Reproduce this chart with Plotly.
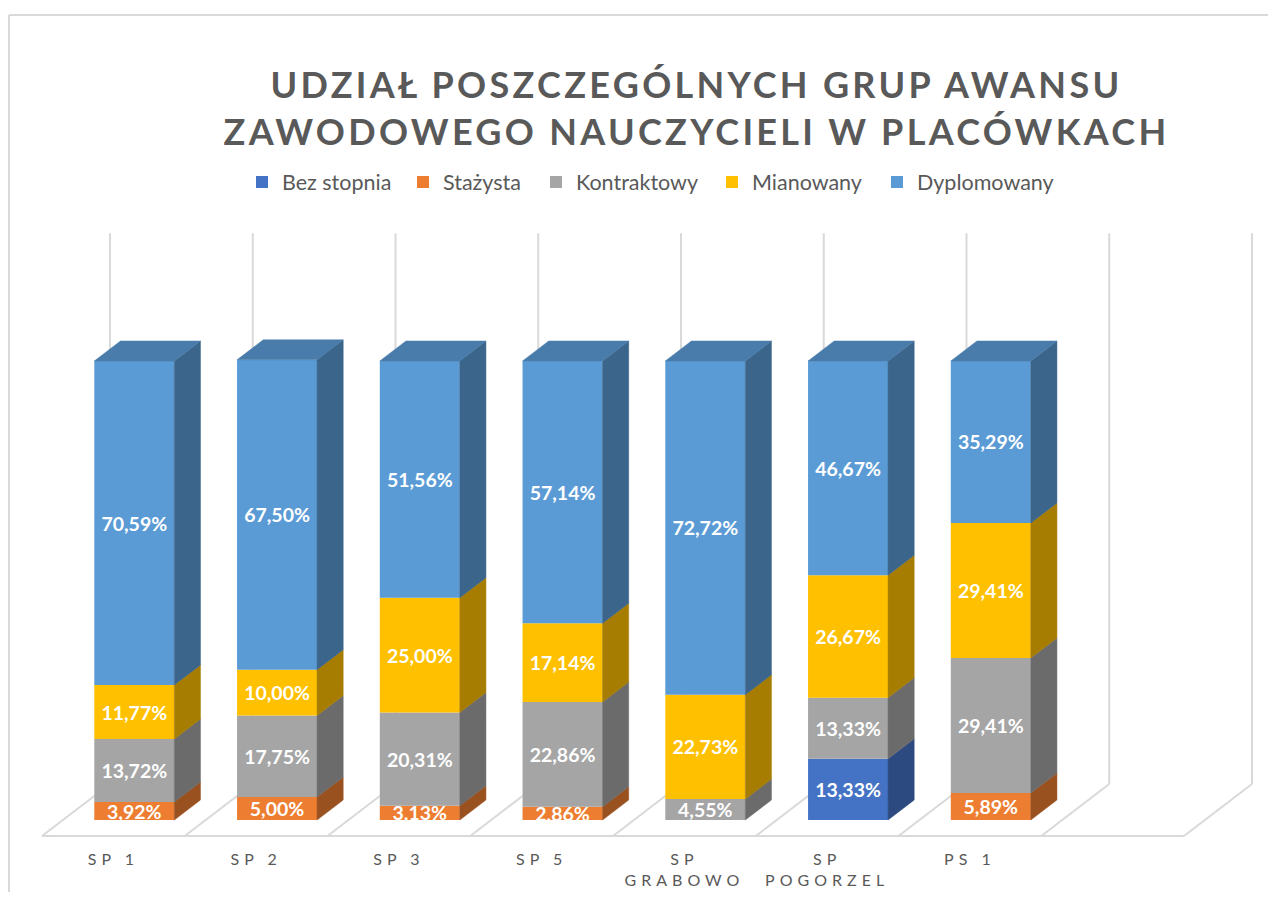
import plotly.graph_objects as go

# ---------------- data ----------------
categories = ["SP 1", "SP 2", "SP 3", "SP 5", "SP<br>GRABOWO", "SP<br>POGORZEL", "PS 1", ""]
series_names = ["Bez stopnia", "Stażysta", "Kontraktowy", "Mianowany", "Dyplomowany"]
bez_stopnia = [0, 0, 0, 0, 0, 13.33, 0, None]
stazysta = [3.92, 5.00, 3.13, 2.86, 0, 0, 5.89, None]
kontraktowy = [13.72, 17.75, 20.31, 22.86, 4.55, 13.33, 29.41, None]
mianowany = [11.77, 10.00, 25.00, 17.14, 22.73, 26.67, 29.41, None]
dyplomowany = [70.59, 67.50, 51.56, 57.14, 72.72, 46.67, 35.29, None]
axis_max = 120
title_text = "UDZIAŁ POSZCZEGÓLNYCH GRUP AWANSU<br>ZAWODOWEGO NAUCZYCIELI W PLACÓWKACH"

series_values = [bez_stopnia, stazysta, kontraktowy, mianowany, dyplomowany]

# ---------------- styles ----------------
front_colors = ["#4472C4", "#ED7D31", "#A5A5A5", "#FFC000", "#5B9BD5"]
side_colors = ["#2C4A80", "#9A5120", "#6B6B6B", "#A67D00", "#3B658B"]
top_color = "#497CAA"
grid_color = "#D9D9D9"
text_gray = "#595959"
FONT = "Lato"
legend_widths = [116, 88, 131, 120, 140]

# oblique projection (depth offsets in axis units)
DX, DY = 0.4764, 11.33
ZF, ZB = 0.3077, 0.6923
BW = 0.5604
DD = ZB - ZF

n = len(categories)
fig = go.Figure()

cum = [0.0] * n
bases_all = []
for s, vals in enumerate(series_values):
    v = [x if x is not None else 0 for x in vals]
    bases = [ZF * DY + cum[i] for i in range(n)]
    bases_all.append((bases, v))
    texts = [("" if (x is None or x == 0) else f"{x:.2f}%".replace(".", ",")) for x in vals]
    fig.add_trace(go.Bar(
        x=[i + ZF * DX for i in range(n)], y=vals, base=bases, width=BW,
        name=series_names[s], marker=dict(color=front_colors[s], line=dict(width=0)),
        text=texts, textposition="inside", insidetextanchor="middle", textangle=0,
        textfont=dict(family=FONT, size=19.5, color="white", weight="bold"),
        legendwidth=legend_widths[s], hoverinfo="skip", cliponaxis=False,
    ))
    cum = [cum[i] + v[i] for i in range(n)]

# side faces
for s, (bases, v) in enumerate(bases_all):
    xs, ys = [], []
    for i in range(n):
        if v[i] <= 0:
            continue
        xr = i + ZF * DX + BW / 2
        b, t = bases[i], bases[i] + v[i]
        xs += [xr, xr + DD * DX, xr + DD * DX, xr, xr, None]
        ys += [b, b + DD * DY, t + DD * DY, t, b, None]
    fig.add_trace(go.Scatter(x=xs, y=ys, mode="lines", fill="toself",
                             fillcolor=side_colors[s], line=dict(width=0.5, color=side_colors[s]),
                             hoverinfo="skip", showlegend=False))

# top faces
xs, ys = [], []
for i in range(n):
    if cum[i] <= 0:
        continue
    xl = i + ZF * DX - BW / 2
    xr = i + ZF * DX + BW / 2
    T = ZF * DY + cum[i]
    xs += [xl, xr, xr + DD * DX, xl + DD * DX, xl, None]
    ys += [T, T, T + DD * DY, T + DD * DY, T, None]
fig.add_trace(go.Scatter(x=xs, y=ys, mode="lines", fill="toself", fillcolor=top_color,
                         line=dict(width=0.5, color=top_color), hoverinfo="skip", showlegend=False))

# walls / floor
shapes = []
shapes.append(dict(type="line", xref="x", yref="y", x0=-0.5, y0=0, x1=n - 0.5, y1=0,
                   line=dict(color=grid_color, width=2), layer="below"))
for i in range(n + 1):
    xb = i - 0.5
    shapes.append(dict(type="line", xref="x", yref="y", x0=xb, y0=0, x1=xb + DX, y1=DY,
                       line=dict(color=grid_color, width=2), layer="below"))
    shapes.append(dict(type="line", xref="x", yref="y", x0=xb + DX, y0=DY, x1=xb + DX, y1=DY + axis_max,
                       line=dict(color=grid_color, width=2), layer="below"))
# chart border
W, H, B = 1260, 884, 47
ph = H - B
shapes.append(dict(type="line", xref="paper", yref="paper", x0=1 / W, y0=1 - 7 / ph, x1=1 + 8 / W, y1=1 - 7 / ph,
                   line=dict(color=grid_color, width=2)))
shapes.append(dict(type="line", xref="paper", yref="paper", x0=1 / W, y0=1 - 7 / ph, x1=1 / W, y1=1 - H / ph,
                   line=dict(color=grid_color, width=2)))

ticktext = ['<span style="letter-spacing:5px">' + c + "</span>" for c in categories]

fig.update_layout(
    width=W, height=H, autosize=False,
    margin=dict(l=0, r=0, t=0, b=B, autoexpand=False),
    paper_bgcolor="white", plot_bgcolor="white",
    barmode="overlay",
    shapes=shapes,
    uniformtext=dict(mode="show", minsize=19.5),
    title=dict(text='<span style="letter-spacing:3.3px">' + title_text + "</span>",
               x=688.5 / W, xanchor="center", xref="container",
               y=1 - 90 / H, yanchor="top", yref="container",
               font=dict(family=FONT, size=36, color=text_gray, weight="bold")),
    legend=dict(orientation="h", x=234 / W, xanchor="left", y=1 - 174 / ph, yanchor="middle",
                font=dict(family=FONT, size=21.5, color=text_gray), bgcolor="rgba(0,0,0,0)",
                traceorder="normal"),
    xaxis=dict(type="linear", range=[-0.7382, 8.0885], tickvals=list(range(n)), ticktext=ticktext,
               showgrid=False, zeroline=False, showline=False, ticks="", automargin=False,
               tickfont=dict(family=FONT, size=16, color=text_gray), ticklabelstandoff=3,
               fixedrange=True),
    yaxis=dict(range=[-1.961, 180.392], visible=False, fixedrange=True, automargin=False),
    showlegend=True,
)

fig.write_html("out.html")
